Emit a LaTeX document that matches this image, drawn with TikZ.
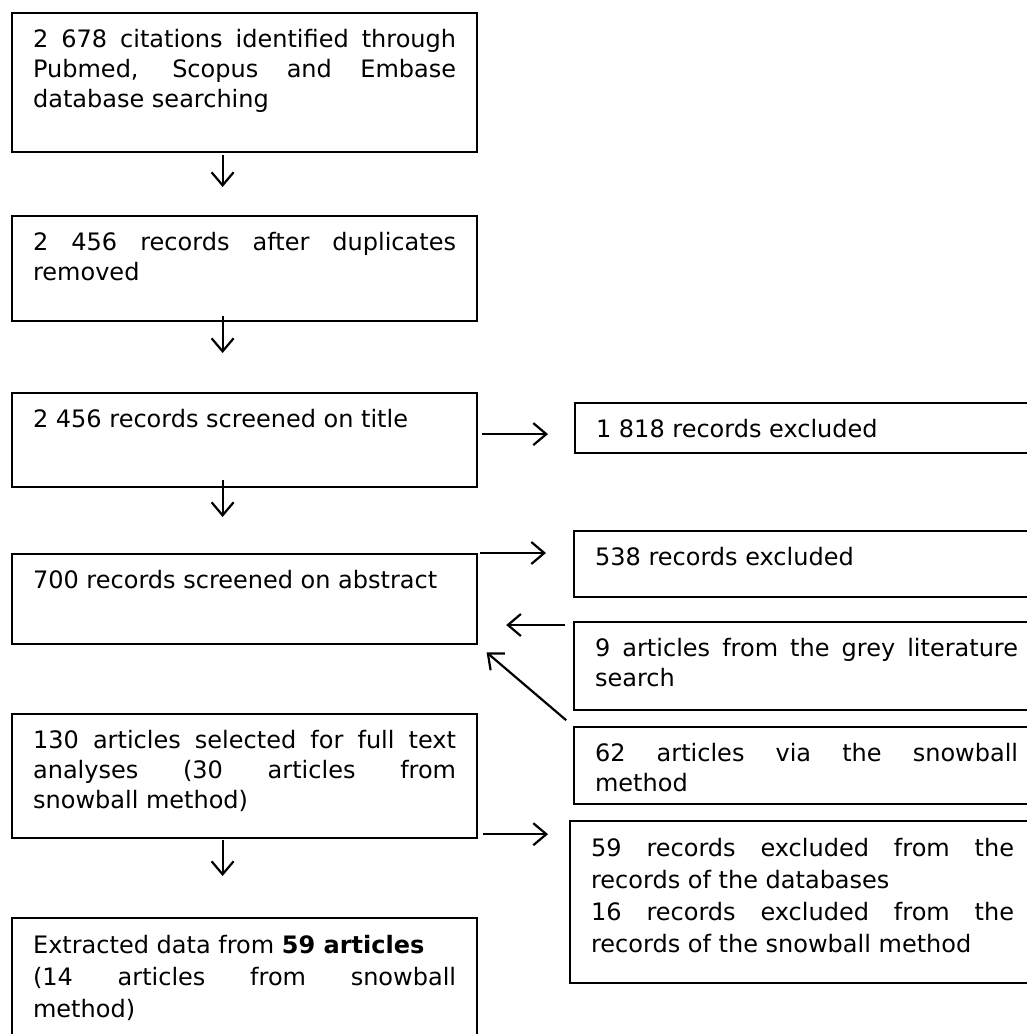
\documentclass[tikz,border=0pt]{standalone}
\usepackage{fontspec}
\setmainfont{DejaVu Sans}
\usetikzlibrary{arrows.meta}

\newcommand{\boxtext}[2]{\parbox[t][#1][t]{211.5pt}{\hyphenpenalty=10000\exhyphenpenalty=10000\tolerance=10000\strut #2}}

\begin{document}
\begin{tikzpicture}[
	x=0.5pt, y=-0.5pt,
	box/.style={ draw, line width=1.1pt, anchor=north west, inner xsep=10.5pt, inner ysep=6.5pt, font=\fontsize{12}{15}\selectfont },
	boxwide/.style={ box, font=\fontsize{12}{16}\selectfont },
	arr/.style={ line width=1.1pt, -{Straight Barb[length=6.5pt,width=11pt]} }
]
\useasboundingbox (0,0) rectangle (1027,1034);

% main column
\node at (11,12) (n1) [box] {\boxtext{56.5pt}{2 678 citations identified through\linebreak Pubmed, Scopus and Embase\linebreak database searching}};
\node at (11,215) (n2) [box] {\boxtext{39.5pt}{2 456 records after duplicates\linebreak removed}};
\node at (11,392) (n3) [box] {\boxtext{34pt}{2 456 records screened on title}};
\node at (11,553) (n4) [box] {\boxtext{32pt}{700 records screened on abstract}};
\node at (11,713) (n5) [box] {\boxtext{49pt}{130 articles selected for full text\linebreak analyses (30 articles from\linebreak snowball method)}};
\node at (11,917) (n6) [boxwide] {\boxtext{57pt}{Extracted data from \textbf{59 articles}\\(14 articles from snowball\linebreak method)}};

% side boxes
\node at (574,402) (r1) [box] {\boxtext{12pt}{1 818 records excluded}};
\node at (573,530) (r2) [box] {\boxtext{20pt}{538 records excluded}};
\node at (573,621) (r3) [box] {\boxtext{31pt}{9 articles from the grey literature\linebreak search}};
\node at (573,726) (r4) [box] {\boxtext{25.5pt}{62 articles via the snowball\linebreak method}};
\node at (569,820) (r5) [boxwide] {\boxtext{68pt}{59 records excluded from the\linebreak records of the databases\\16 records excluded from the\linebreak records of the snowball method}};

\foreach \a/\b/\s/\e in {n1/n2/1pt/14pt, n2/n3/-3pt/19.5pt, n3/n4/-4pt/18pt, n5/n6/0.5pt/20.5pt}
	\draw[arr, shorten <=\s, shorten >=\e] ([xshift=-11pt]\a.south) to ([xshift=-11pt]\b.north);

\draw[arr, shorten <=2pt, shorten >=13pt] ([yshift=3pt]n3.east) to ([yshift=3pt]n3.east -| r1.west);
\draw[arr, shorten <=1pt, shorten >=13.5pt] (n4.north east) to (n4.north east -| r2.west);
\draw[arr, shorten <=4pt, shorten >=14pt] ([yshift=-2pt]r3.north west) to ([yshift=-2pt]r3.north west -| n4.east);
\draw[arr, shorten <=4.5pt, shorten >=5.5pt] (r4.north west) to (n4.south east);
\draw[arr, shorten <=2.5pt, shorten >=10.5pt] ([yshift=2.5pt]n5.south east) to ([yshift=2.5pt]n5.south east -| r5.west);

\end{tikzpicture}
\end{document}
